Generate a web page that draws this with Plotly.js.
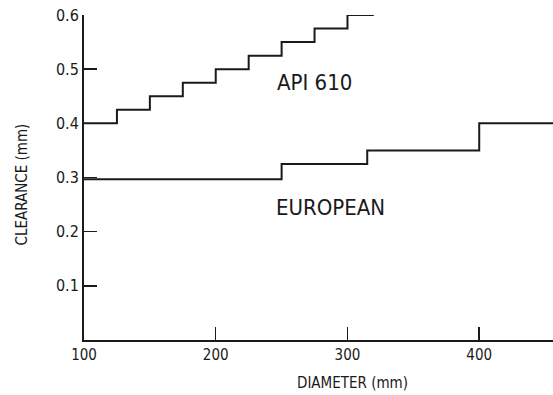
<!DOCTYPE html>
<html><head><meta charset="utf-8">
<script src="https://cdn.plot.ly/plotly-3.0.1.min.js"></script>
<style>html,body{margin:0;padding:0;background:#fff}#chart{width:553px;height:395px}</style>
</head><body><div id="chart"></div>
<script>
const apiDiameter = [100, 125, 150, 175, 200, 225, 250, 275, 300, 320];
const apiClearance = [0.40, 0.425, 0.45, 0.475, 0.50, 0.525, 0.55, 0.575, 0.60, 0.60];
const euroDiameter = [100, 250, 315, 400, 460];
const euroClearance = [0.297, 0.325, 0.35, 0.40, 0.40];
const xTicks = [100, 200, 300, 400];
const yTicks = [0.1, 0.2, 0.3, 0.4, 0.5, 0.6];
const yTickText = ['0.1', '0.2', '0.3', '0.4', '0.5', '0.6'];

const FONT = 'DejaVu Sans Condensed, Liberation Sans Narrow, sans-serif';
const INK = '#1a1a1a';

const traces = [
  {x: apiDiameter, y: apiClearance, mode: 'lines', line: {shape: 'hv', color: INK, width: 2}, hoverinfo: 'skip'},
  {x: euroDiameter, y: euroClearance, mode: 'lines', line: {shape: 'hv', color: INK, width: 2}, hoverinfo: 'skip'}
];

const layout = {
  width: 553, height: 395,
  margin: {l: 84, r: 0, t: 15, b: 55},
  paper_bgcolor: '#fff', plot_bgcolor: '#fff',
  showlegend: false,
  font: {family: FONT, color: INK, size: 13},
  xaxis: {
    range: [100, 456], tickvals: xTicks, ticktext: xTicks.map(String),
    ticks: 'inside', ticklen: 13, tickwidth: 1.5, tickcolor: INK,
    showline: true, linecolor: INK, linewidth: 2,
    showgrid: false, zeroline: false,
    tickfont: {family: FONT, size: 15, color: INK}
  },
  yaxis: {
    range: [0, 0.6], tickvals: yTicks, ticktext: yTickText,
    ticks: 'inside', ticklen: 13, tickwidth: 1.5, tickcolor: INK,
    showline: true, linecolor: INK, linewidth: 2,
    showgrid: false, zeroline: false,
    tickfont: {family: FONT, size: 16, color: INK}
  },
  annotations: [
    {text: 'API 610', x: 275, y: 0.475, xref: 'x', yref: 'y', showarrow: false,
     font: {family: FONT, size: 22, color: INK}},
    {text: 'EUROPEAN', x: 287, y: 0.244, xref: 'x', yref: 'y', showarrow: false,
     font: {family: FONT, size: 22, color: INK}},
    {text: 'CLEARANCE (mm)', xref: 'paper', yref: 'paper', x: (21.5 - 84) / 469, y: (340 - 185) / 325,
     textangle: -90, showarrow: false, xanchor: 'center', yanchor: 'middle',
     font: {family: FONT, size: 15, color: INK}},
    {text: 'DIAMETER (mm)', xref: 'paper', yref: 'paper', x: (352 - 84) / 469, y: -(383 - 340) / 325,
     showarrow: false, xanchor: 'center', yanchor: 'middle',
     font: {family: FONT, size: 15, color: INK}}
  ]
};

Plotly.newPlot('chart', traces, layout, {staticPlot: true});
</script></body></html>
